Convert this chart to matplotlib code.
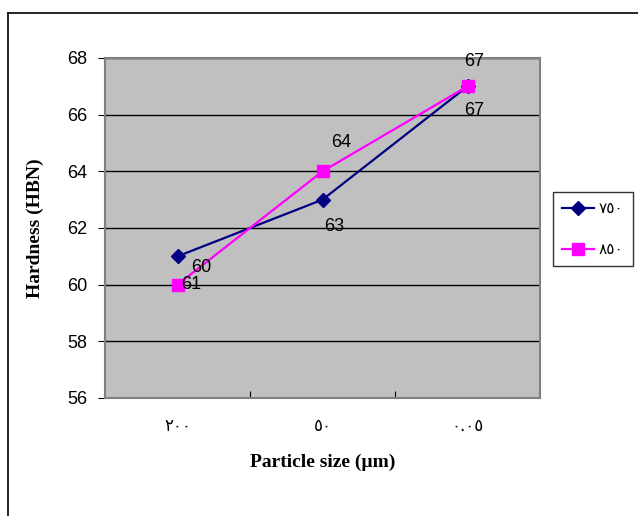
import matplotlib.pyplot as plt
from matplotlib.lines import Line2D

# categories (particle size, Persian digits) and hardness values
sizes = ['٢٠٠', '٥٠', '٠.٠٥']
temps = ['٧٥٠', '٨٥٠']
hard_750 = [61, 63, 67]
hard_850 = [60, 64, 67]
# data labels as printed on the original chart
lab_750 = ['60', '63', '67']
lab_850 = ['61', '64', '67']
# label offsets in pixels (dx, dy)
off_750 = [(24, -11), (12, -27), (7, -24)]
off_850 = [(14, 0), (19, 29), (7, 25)]

fig = plt.figure(figsize=(6.38, 5.16), dpi=100)
ax = fig.add_axes([105/638, 118/516, 435/638, 340/516])
ax.set_facecolor('#c0c0c0')

x = range(len(sizes))
ax.plot(x, hard_750, color='#000080', lw=1.6, marker='D', ms=7, zorder=3)
ax.plot(x, hard_850, color='#ff00ff', lw=1.6, marker='s', ms=9, zorder=3)

for i in x:
    ax.annotate(lab_750[i], (i, hard_750[i]), xytext=off_750[i], textcoords='offset pixels',
                ha='center', va='center', fontsize=13, family='Liberation Sans', zorder=4)
    ax.annotate(lab_850[i], (i, hard_850[i]), xytext=off_850[i], textcoords='offset pixels',
                ha='center', va='center', fontsize=13, family='Liberation Sans', zorder=4)

ax.set_xlim(-0.5, 2.5)
ax.set_ylim(56, 68)
ax.set_yticks(range(56, 69, 2))
ax.set_yticklabels([str(v) for v in range(56, 69, 2)], fontsize=13, family='Liberation Sans')
ax.set_xticks([0.5, 1.5])
ax.set_xticklabels([])
ax.set_xticks(list(x), minor=True)
ax.set_xticklabels(sizes, minor=True, fontsize=12, family='DejaVu Sans')
ax.tick_params(axis='x', which='minor', length=0, pad=14)
ax.tick_params(axis='x', which='major', length=5, direction='in', color='black')
ax.tick_params(axis='y', length=5, direction='out', pad=8)
ax.grid(axis='y', color='black', lw=1)
ax.set_axisbelow(True)
for s in ax.spines.values():
    s.set_color('#808080')
    s.set_linewidth(1.5)

ax.set_ylabel('Hardness (HBN)', fontsize=14, fontweight='bold', family='Liberation Serif', labelpad=16)
ax.set_xlabel('Particle size (µm)', fontsize=14, fontweight='bold', family='Liberation Serif', labelpad=13)

handles = [Line2D([], [], color='#000080', lw=1.6, marker='D', ms=7),
           Line2D([], [], color='#ff00ff', lw=1.6, marker='s', ms=9)]
leg = fig.legend(handles, temps, loc='center left', bbox_to_anchor=(553/638, 287/516),
                 frameon=True, fancybox=False, edgecolor='black', borderaxespad=0,
                 handlelength=2.1, handletextpad=0.3, labelspacing=1.7, borderpad=0.6,
                 prop={'family': 'DejaVu Sans', 'size': 11})
leg.get_frame().set_linewidth(1)

# outer chart frame
fig.add_artist(Line2D([8/638, 8/638], [0, 1 - 13/516], color='black', lw=1.2))
fig.add_artist(Line2D([8/638, 1], [1 - 13/516, 1 - 13/516], color='black', lw=1.2))

fig.savefig('out.png', dpi=100)
